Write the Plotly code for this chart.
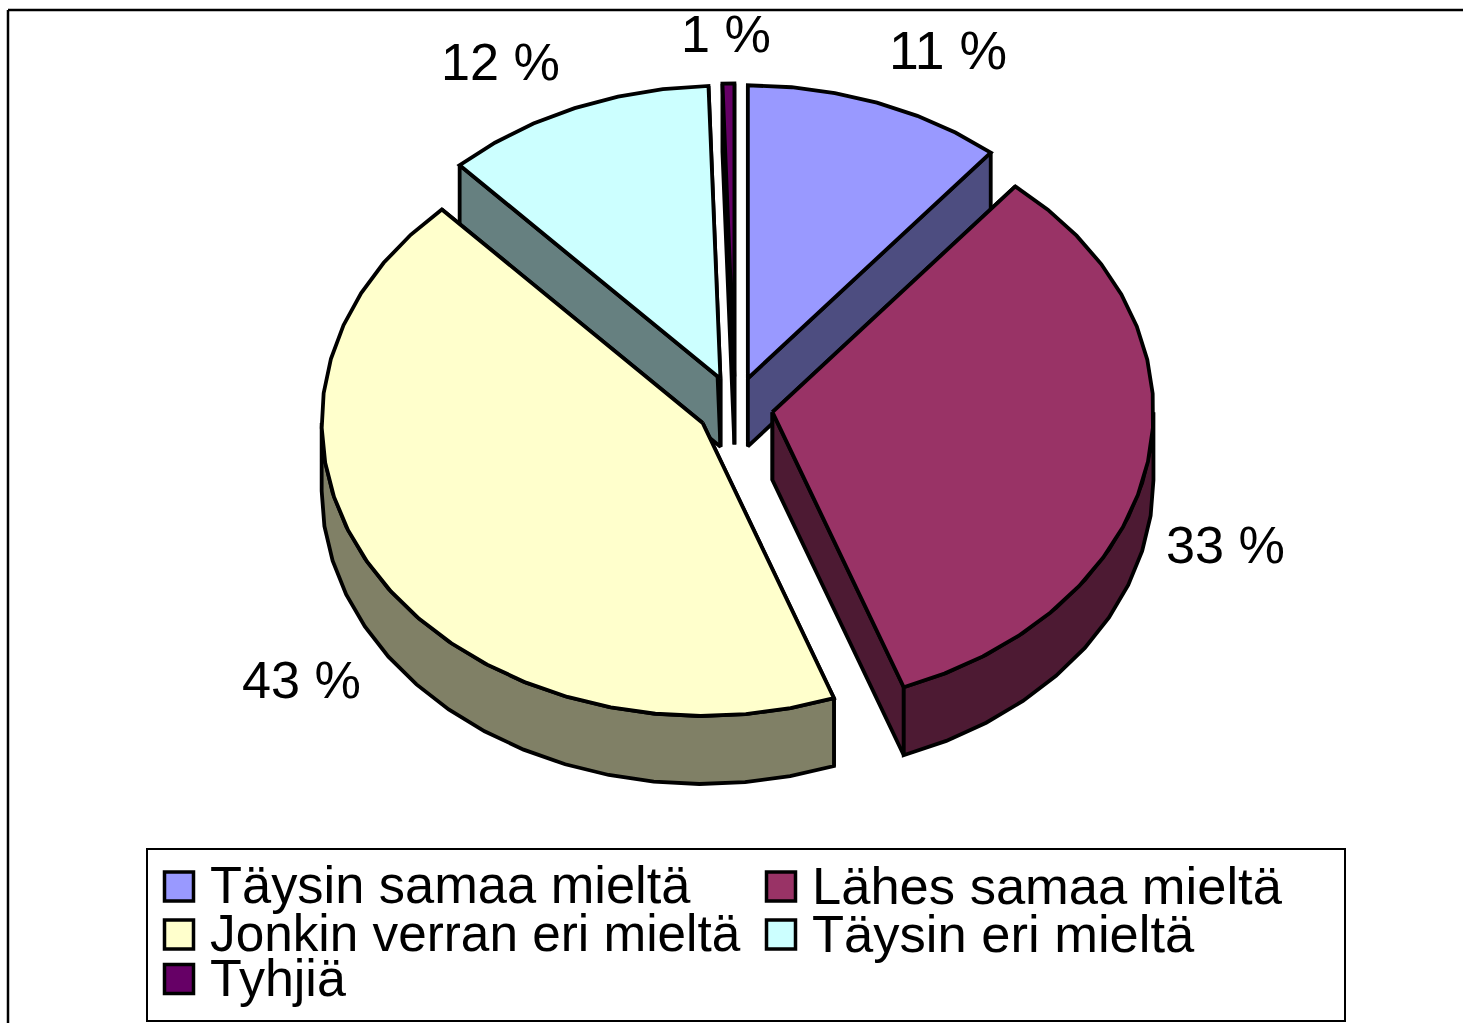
import numpy as np
import plotly.graph_objects as go

categories = ["Täysin samaa mieltä", "Lähes samaa mieltä", "Jonkin verran eri mieltä", "Täysin eri mieltä", "Tyhjiä"]
shares = [11.0, 33.4, 43.6, 11.5, 0.5]
value_labels = ["11 %", "33 %", "43 %", "12 %", "1 %"]
top_colors = ["#9999ff", "#993366", "#ffffcc", "#ccffff", "#660066"]
side_colors = ["#4d4d80", "#4d1a33", "#808066", "#668080", "#330033"]

W, H = 1463, 1023
FONT = "Liberation Sans"
legend_sizes = [52.4, 52.5, 51.3, 52.5, 52]
value_sizes = [53.5, 52.2, 52.2, 52.2, 52.2]
CX, CY, RX, RY = 735, 407, 381, 293
EX, EY = 38, 30.5
DEPTH = 68
LW = 3.8
DRAW_ORDER = [0, 4, 3, 2, 1]

cum = np.concatenate([[0], np.cumsum(shares)]) / np.sum(shares) * 360


def rim(ax, ay, a0, a1, step=7.0):
    n = max(2, int(np.ceil((a1 - a0) / step)) + 1)
    t = np.radians(np.linspace(a0, a1, n))
    return ax + RX * np.sin(t), ay - RY * np.cos(t)


def poly(fig, xs, ys, color, name):
    fig.add_trace(go.Scatter(
        x=np.append(xs, xs[0]), y=np.append(ys, ys[0]), mode="lines", fill="toself",
        fillcolor=color, line=dict(color="black", width=LW), name=name,
        showlegend=False, hoverinfo="name",
    ))


fig = go.Figure()
for i in DRAW_ORDER:
    a0, a1 = cum[i], cum[i + 1]
    mid = np.radians((a0 + a1) / 2)
    ax, ay = CX + EX * np.sin(mid), CY - EY * np.cos(mid)
    # radial side walls
    for a in (a0, a1):
        ex, ey = rim(ax, ay, a, a)
        ex, ey = ex[0], ey[0]
        poly(fig, np.array([ax, ex, ex, ax]), np.array([ay, ey, ey + DEPTH, ay + DEPTH]), side_colors[i], categories[i])
    # outer wall on the front half
    lo, hi = max(a0, 90), min(a1, 270)
    if hi > lo:
        xr, yr = rim(ax, ay, lo, hi)
        poly(fig, np.concatenate([xr, xr[::-1]]), np.concatenate([yr, yr[::-1] + DEPTH]), side_colors[i], categories[i])
    # top face
    xr, yr = rim(ax, ay, a0, a1)
    poly(fig, np.concatenate([[ax], xr]), np.concatenate([[ay], yr]), top_colors[i], categories[i])

shapes = [
    dict(type="line", x0=8, y0=10, x1=W, y1=10, line=dict(color="black", width=2.5)),
    dict(type="line", x0=8, y0=10, x1=8, y1=H, line=dict(color="black", width=2.5)),
    dict(type="rect", x0=147, y0=849, x1=1345, y1=1021, line=dict(color="black", width=2), fillcolor="white"),
]
legend_pos = [(179, 886.5), (781, 886.5), (179, 934.5), (781, 934.5), (179, 979)]
annotations = []
for c, col, fs, (sx, sy) in zip(categories, top_colors, legend_sizes, legend_pos):
    shapes.append(dict(type="rect", x0=sx - 14.5, x1=sx + 14.5, y0=sy - 14.5, y1=sy + 14.5,
                       fillcolor=col, line=dict(color="black", width=3.5)))
    annotations.append(dict(x=sx + 29, y=sy - 1.5, text=c, showarrow=False, xanchor="left", yanchor="middle",
                            font=dict(family=FONT, size=fs, color="black"), xref="x", yref="y"))
label_pos = [(948, 50), (1225, 545), (301, 680), (500, 62), (726, 34)]
for t, fs, (lx, ly) in zip(value_labels, value_sizes, label_pos):
    annotations.append(dict(x=lx, y=ly, text=t, showarrow=False, xanchor="center", yanchor="middle",
                            font=dict(family=FONT, size=fs, color="black"), xref="x", yref="y"))

fig.update_layout(
    width=W, height=H, margin=dict(l=0, r=0, t=0, b=0), autosize=False,
    paper_bgcolor="white", plot_bgcolor="white", showlegend=False,
    xaxis=dict(range=[0, W], visible=False, fixedrange=True),
    yaxis=dict(range=[H, 0], visible=False, fixedrange=True),
    shapes=shapes, annotations=annotations,
)
fig.write_html("out.html", post_script="document.body.style.margin='0';", config={"displayModeBar": False})
